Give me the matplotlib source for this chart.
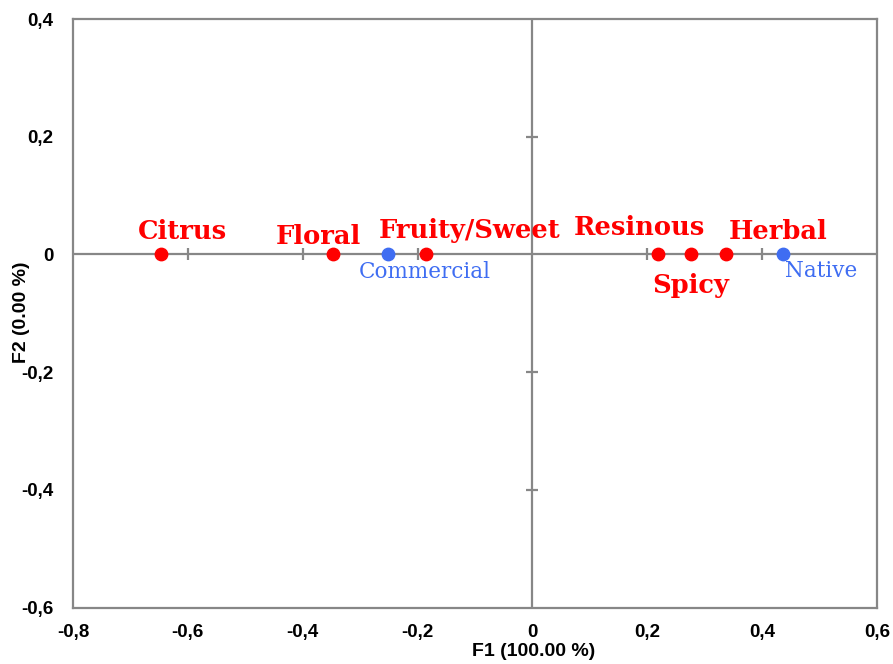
import matplotlib.pyplot as plt

# CA coordinates on F1 (F2 is zero for every point)
attributes = ['Citrus', 'Floral', 'Fruity/Sweet', 'Resinous', 'Spicy', 'Herbal']
attr_f1 = [-0.647, -0.348, -0.185, 0.218, 0.276, 0.337]
attr_f2 = [0.0, 0.0, 0.0, 0.0, 0.0, 0.0]

samples = ['Commercial', 'Native']
samp_f1 = [-0.251, 0.437]
samp_f2 = [0.0, 0.0]

xticks = [-0.8, -0.6, -0.4, -0.2, 0, 0.2, 0.4, 0.6]
yticks = [-0.6, -0.4, -0.2, 0, 0.2, 0.4]

red = '#ff0000'
blue = '#3f6df2'
grey = '#878787'

fig = plt.figure(figsize=(8.93, 6.64), dpi=100)
ax = fig.add_axes([73 / 893, 1 - 607.5 / 664, 804 / 893, 588.5 / 664])
ax.set_xlim(-0.8, 0.6)
ax.set_ylim(-0.6, 0.4)

for s in ax.spines.values():
    s.set_color(grey)
    s.set_linewidth(1.6)

# axes through the origin with their own little tick marks
ax.axhline(0, color=grey, lw=1.6, zorder=1)
ax.axvline(0, color=grey, lw=1.6, zorder=1)
inner_x = [t for t in xticks if t not in (0, -0.8, 0.6)]
inner_y = [t for t in yticks if t not in (0, -0.6, 0.4)]
ax.plot(inner_x, [0] * len(inner_x), ls='none', marker='|', ms=9, mew=1.6, color=grey, zorder=1)
ax.plot([0] * len(inner_y), inner_y, ls='none', marker='_', ms=9, mew=1.6, color=grey, zorder=1)

ax.set_xticks(xticks)
ax.set_yticks(yticks)
fmt = lambda v: '0' if v == 0 else f'{v:.1f}'.replace('.', ',')
ax.set_xticklabels([fmt(v) for v in xticks])
ax.set_yticklabels([fmt(v) for v in yticks])
ax.tick_params(axis='x', length=0, pad=12, labelsize=13.5)
ax.tick_params(axis='y', length=0, pad=14, labelsize=13.5)
for lab in ax.get_xticklabels() + ax.get_yticklabels():
    lab.set_fontfamily('Liberation Sans')
    lab.set_fontweight('bold')

ax.scatter(attr_f1, attr_f2, s=80, color=red, zorder=3)
ax.scatter(samp_f1, samp_f2, s=80, color=blue, zorder=3)

# label offsets (dx, dy) from each point
attr_off = {
    'Citrus': (0.037, 0.026),
    'Floral': (-0.024, 0.017),
    'Fruity/Sweet': (0.075, 0.028),
    'Resinous': (-0.032, 0.033),
    'Spicy': (0.0, -0.066),
    'Herbal': (0.091, 0.026),
}
samp_off = {
    'Commercial': (0.064, -0.040),
    'Native': (0.065, -0.038),
}
for name, x, y in zip(attributes, attr_f1, attr_f2):
    dx, dy = attr_off[name]
    ax.text(x + dx, y + dy, name, color=red, fontsize=18.5, fontweight='bold',
            family='DejaVu Serif', ha='center', va='baseline', zorder=4)
for name, x, y in zip(samples, samp_f1, samp_f2):
    dx, dy = samp_off[name]
    ax.text(x + dx, y + dy, name, color=blue, fontsize=15.5,
            family='DejaVu Serif', ha='center', va='baseline', zorder=4)

fig.text(534 / 893, 1 - 651 / 664, 'F1 (100.00 %)', ha='center', va='center',
         fontsize=14, fontweight='bold', family='Liberation Sans')
fig.text(22 / 893, 1 - 312 / 664, 'F2 (0.00 %)', ha='center', va='center', rotation=90,
         fontsize=14, fontweight='bold', family='Liberation Sans')

fig.savefig('out.png', dpi=100)
